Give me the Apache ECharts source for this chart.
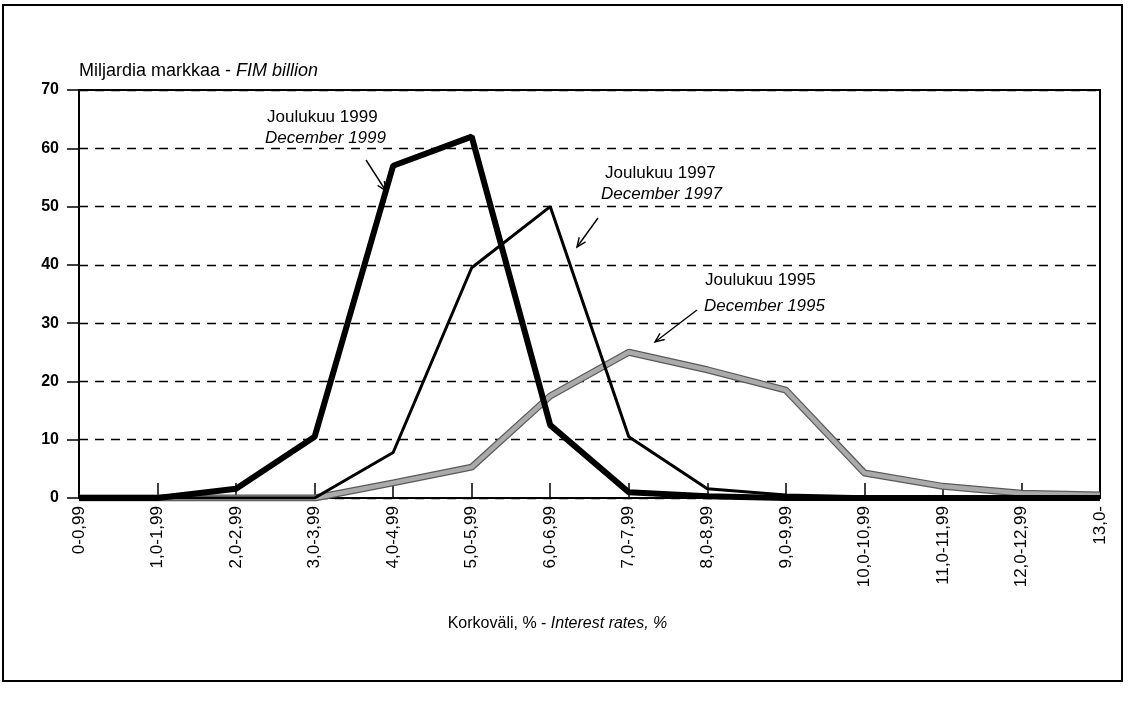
<!DOCTYPE html>
<html><head><meta charset="utf-8">
<script src="https://cdn.jsdelivr.net/npm/echarts@6/dist/echarts.min.js"></script>
<style>html,body{margin:0;padding:0;background:#fff}#c{width:1129px;height:701px}</style>
</head><body><div id="c"></div>
<script>
const categories = ['0-0,99','1,0-1,99','2,0-2,99','3,0-3,99','4,0-4,99','5,0-5,99','6,0-6,99','7,0-7,99','8,0-8,99','9,0-9,99','10,0-10,99','11,0-11,99','12,0-12,99','13,0-'];
const dec1999 = [0, 0, 1.6, 10.5, 57, 62, 12.5, 1, 0.3, 0, 0, 0, 0, 0];
const dec1997 = [0, 0, 0, 0, 7.8, 39.5, 50, 10.5, 1.6, 0.5, 0.2, 0.1, 0, 0];
const dec1995 = [0, 0, 0, 0, 2.6, 5.3, 17.5, 25, 22, 18.5, 4.3, 2, 0.8, 0.5];
const yTicks = [0, 10, 20, 30, 40, 50, 60, 70];

const FONT = "'Liberation Sans Narrow','Arial Narrow','Liberation Sans',Arial,sans-serif";
const chart = echarts.init(document.getElementById('c'));

function arrow(x1, y1, x2, y2) {
  const a = Math.atan2(y2 - y1, x2 - x1), L = 10, w = 0.4;
  return [
    {type:'line', shape:{x1, y1, x2, y2}, style:{stroke:'#000', lineWidth:1.4}},
    {type:'polyline', shape:{points:[[x2 - L*Math.cos(a - w), y2 - L*Math.sin(a - w)], [x2, y2], [x2 - L*Math.cos(a + w), y2 - L*Math.sin(a + w)]]}, style:{stroke:'#000', fill:null, lineWidth:1.4}}
  ];
}
function label(x, y, txt, italic) {
  return {type:'text', left: x, top: y, style:{text: txt, font: (italic ? 'italic ' : '') + '17px ' + FONT, fill:'#000'}};
}

chart.setOption({
  animation: false,
  backgroundColor: '#fff',
  grid: {left: 79, right: 29, top: 90, bottom: 203, show: true, borderColor: '#000', borderWidth: 2},
  xAxis: {
    type: 'category', data: categories, boundaryGap: false,
    name: 'Korkoväli, % - {i|Interest rates, %}', nameLocation: 'middle', nameGap: 118,
    nameTextStyle: {fontFamily: FONT, fontSize: 16, color: '#000', padding: [0, 64, 0, 0], rich: {i: {fontStyle: 'italic', fontFamily: FONT, fontSize: 16}}},
    axisLine: {lineStyle: {color: '#000', width: 2}},
    axisTick: {inside: true, length: 15, lineStyle: {color: '#000', width: 1.5}},
    axisLabel: {rotate: 90, fontFamily: FONT, fontSize: 17, color: '#000', margin: 8, interval: 0},
    splitLine: {show: false}
  },
  yAxis: {
    type: 'value', min: yTicks[0], max: yTicks[yTicks.length - 1], interval: 10,
    axisLine: {show: true, lineStyle: {color: '#000', width: 2}},
    axisTick: {show: true, length: 12, lineStyle: {color: '#000', width: 1.5}},
    axisLabel: {fontFamily: FONT, fontSize: 16, fontWeight: 'bold', color: '#000', margin: 20},
    splitLine: {lineStyle: {color: '#000', type: [9, 7], width: 1.3}}
  },
  series: [
    {type: 'line', data: dec1995, symbol: 'none', z: 2, lineStyle: {color: '#5a5a5a', width: 7}},
    {type: 'line', data: dec1995, symbol: 'none', z: 3, lineStyle: {color: '#aaaaaa', width: 4.5}},
    {type: 'line', data: dec1997, symbol: 'none', z: 4, lineStyle: {color: '#000', width: 3}},
    {type: 'line', data: dec1999, symbol: 'none', z: 5, lineStyle: {color: '#000', width: 6}}
  ],
  graphic: [
    {type: 'rect', shape: {x: 3, y: 5, width: 1119, height: 676}, style: {fill: null, stroke: '#000', lineWidth: 2}},
    {type: 'text', left: 79, top: 62, style: {rich: {n: {font: '18px ' + FONT}, i: {font: 'italic 18px ' + FONT}}, text: '{n|Miljardia markkaa - }{i|FIM billion}', fill: '#000'}},
    label(267, 109, 'Joulukuu 1999'), label(265, 130, 'December 1999', true),
    ...arrow(366, 160, 386, 191),
    label(605, 165, 'Joulukuu 1997'), label(601, 186, 'December 1997', true),
    ...arrow(598, 218, 577, 247),
    label(705, 272, 'Joulukuu 1995'), label(704, 298, 'December 1995', true),
    ...arrow(697, 310, 655, 342)
  ]
});
</script></body></html>
